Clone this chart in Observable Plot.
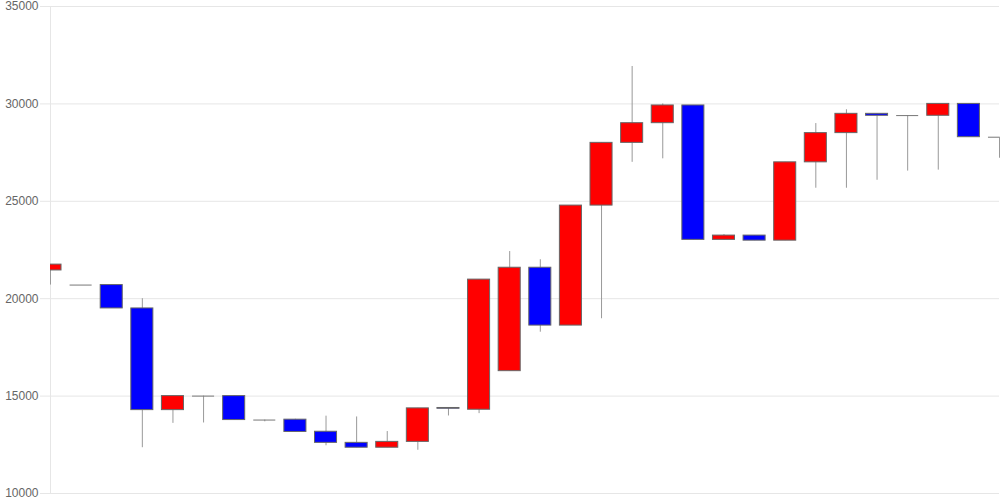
<!DOCTYPE html>
<html><head><meta charset="utf-8">
<script src="https://cdn.jsdelivr.net/npm/d3@7"></script>
<script src="https://cdn.jsdelivr.net/npm/@observablehq/plot@0.6"></script>
<style>html,body{margin:0;padding:0;background:#fff;overflow:hidden;}</style>
</head><body><div id="chart"></div>
<script>
const opens  = [21450,20700,20700,19500,14280,15000,15000,13770,13790,13170,12600,12350,12650,14390,14300,16280,21590,18620,24780,28000,29010,29920,23020,23240,22980,27000,28500,29490,29400,29390,30000,28290];
const closes = [21750,20700,19500,14280,15000,15000,13770,13770,13160,12600,12350,12650,14370,14350,20980,21590,18620,24780,28000,29010,29920,23020,23240,22980,27000,28500,29490,29390,29400,30000,28290,28290];
const highs  = [21750,20700,20700,20000,15000,15000,15000,13770,13810,13970,13930,13180,14370,14390,20980,22420,22000,24780,28000,31920,30000,29920,23290,23240,27000,28990,29700,29490,29400,30000,30000,28290];
const lows   = [20700,20700,19500,12350,13600,13620,13770,13680,13160,12450,12350,12350,12220,13980,14100,16280,18280,18620,18970,27000,27180,23020,23020,22980,22980,25670,25670,26080,26550,26600,28290,27210];
const yTicks = [10000,15000,20000,25000,30000,35000];
const upColor = "#ff0000", downColor = "#0000ff";

const data = opens.map((o, i) => ({i, open: o, close: closes[i], high: highs[i], low: lows[i]}));
const halfW = 0.36;

const chart = Plot.plot({
  width: 1000, height: 500,
  marginLeft: 50, marginRight: 1, marginTop: 6, marginBottom: 7,
  style: {background: "#fff", fontFamily: "'Liberation Sans', Arial, sans-serif", fontSize: "12px"},
  x: {domain: [0, opens.length - 1], axis: null},
  y: {domain: [10000, 35000], axis: null},
  color: {type: "identity"},
  marks: [
    Plot.gridY(yTicks, {stroke: "#e6e6e6", strokeOpacity: 1}),
    Plot.axisY(yTicks, {tickSize: 10, tickPadding: 2, stroke: "#e6e6e6", strokeOpacity: 1, fill: "#666", tickFormat: d3.format("d")}),
    Plot.ruleX([0], {stroke: "#e6e6e6", strokeOpacity: 1}),
    Plot.ruleX(data, {x: "i", y1: "low", y2: "high", stroke: "#999"}),
    Plot.rectY(data, {x1: d => d.i - halfW, x2: d => d.i + halfW, y1: "open", y2: "close",
      fill: d => d.close >= d.open ? upColor : downColor, stroke: "#666", clip: true}),
    Plot.ruleY(data.filter(d => d.open === d.close), {x1: d => d.i - halfW, x2: d => d.i + halfW, y: "close", stroke: "#777", clip: true})
  ]
});
document.getElementById("chart").append(chart);
</script>
</body></html>
